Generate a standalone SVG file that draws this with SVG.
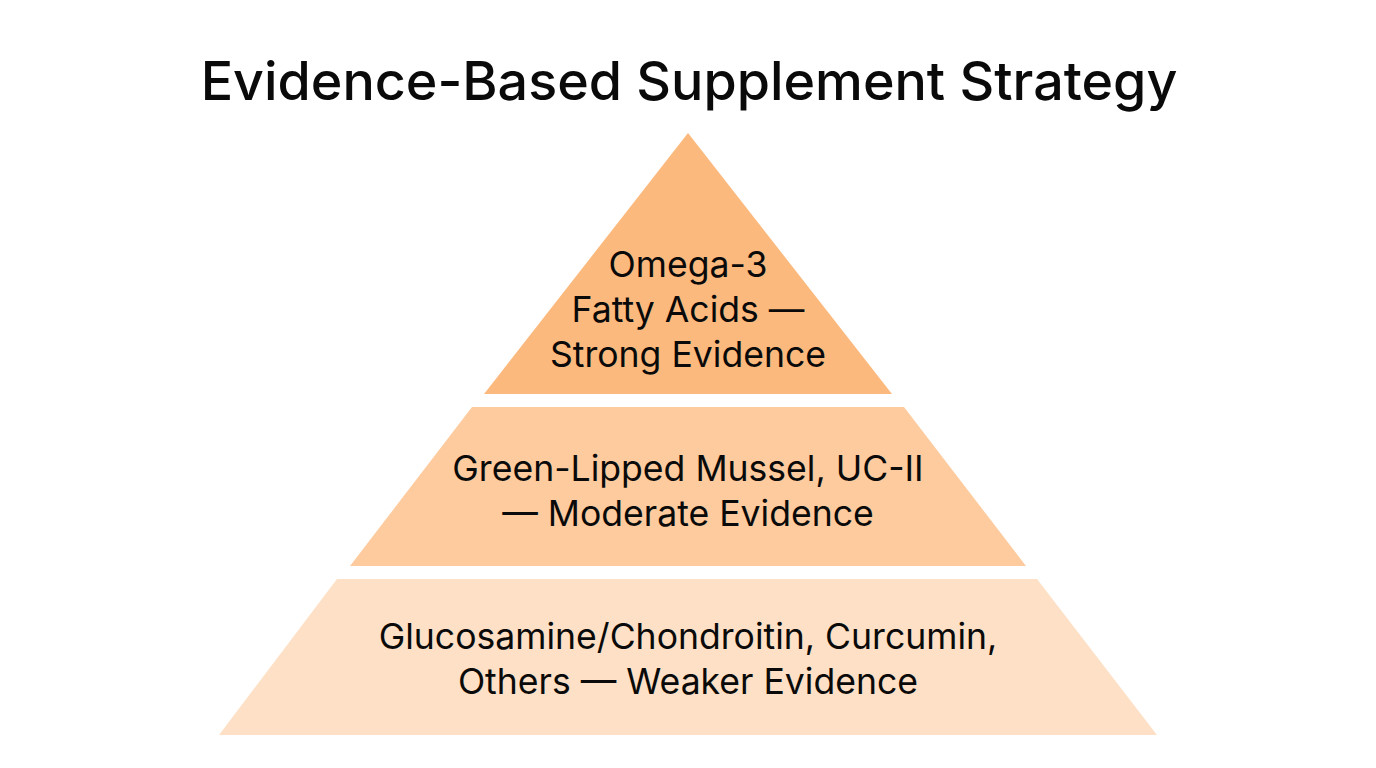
<svg xmlns="http://www.w3.org/2000/svg" width="1376" height="768" viewBox="0 0 1376 768">
<style>
text{font-family:"Inter","Lato","Liberation Sans",sans-serif;fill:#0a0a0a;text-anchor:middle}
.t{font-size:35.6px}
.h{font-size:53.8px;font-weight:500}
</style>
<rect width="1376" height="768" fill="#fff"/>
<text class="h" x="689" y="100">Evidence-Based Supplement Strategy</text>
<g id="tier-top"><polygon points="688,133 892,394 484,394" fill="#fcb97d"/>
<text class="t" x="688" y="277">Omega-3</text><text class="t" x="688" y="322">Fatty Acids —</text><text class="t" x="688" y="367">Strong Evidence</text></g>
<g id="tier-middle"><polygon points="472,407 904,407 1026,566 350,566" fill="#fdcb9e"/>
<text class="t" x="688" y="481">Green-Lipped Mussel, UC-II</text><text class="t" x="688" y="526">— Moderate Evidence</text></g>
<g id="tier-bottom"><polygon points="337,579 1037,579 1157,735 219,735" fill="#fde0c5"/>
<text class="t" x="688" y="649">Glucosamine/Chondroitin, Curcumin,</text><text class="t" x="688" y="694">Others — Weaker Evidence</text></g>
<g id="connectors"/>
</svg>
